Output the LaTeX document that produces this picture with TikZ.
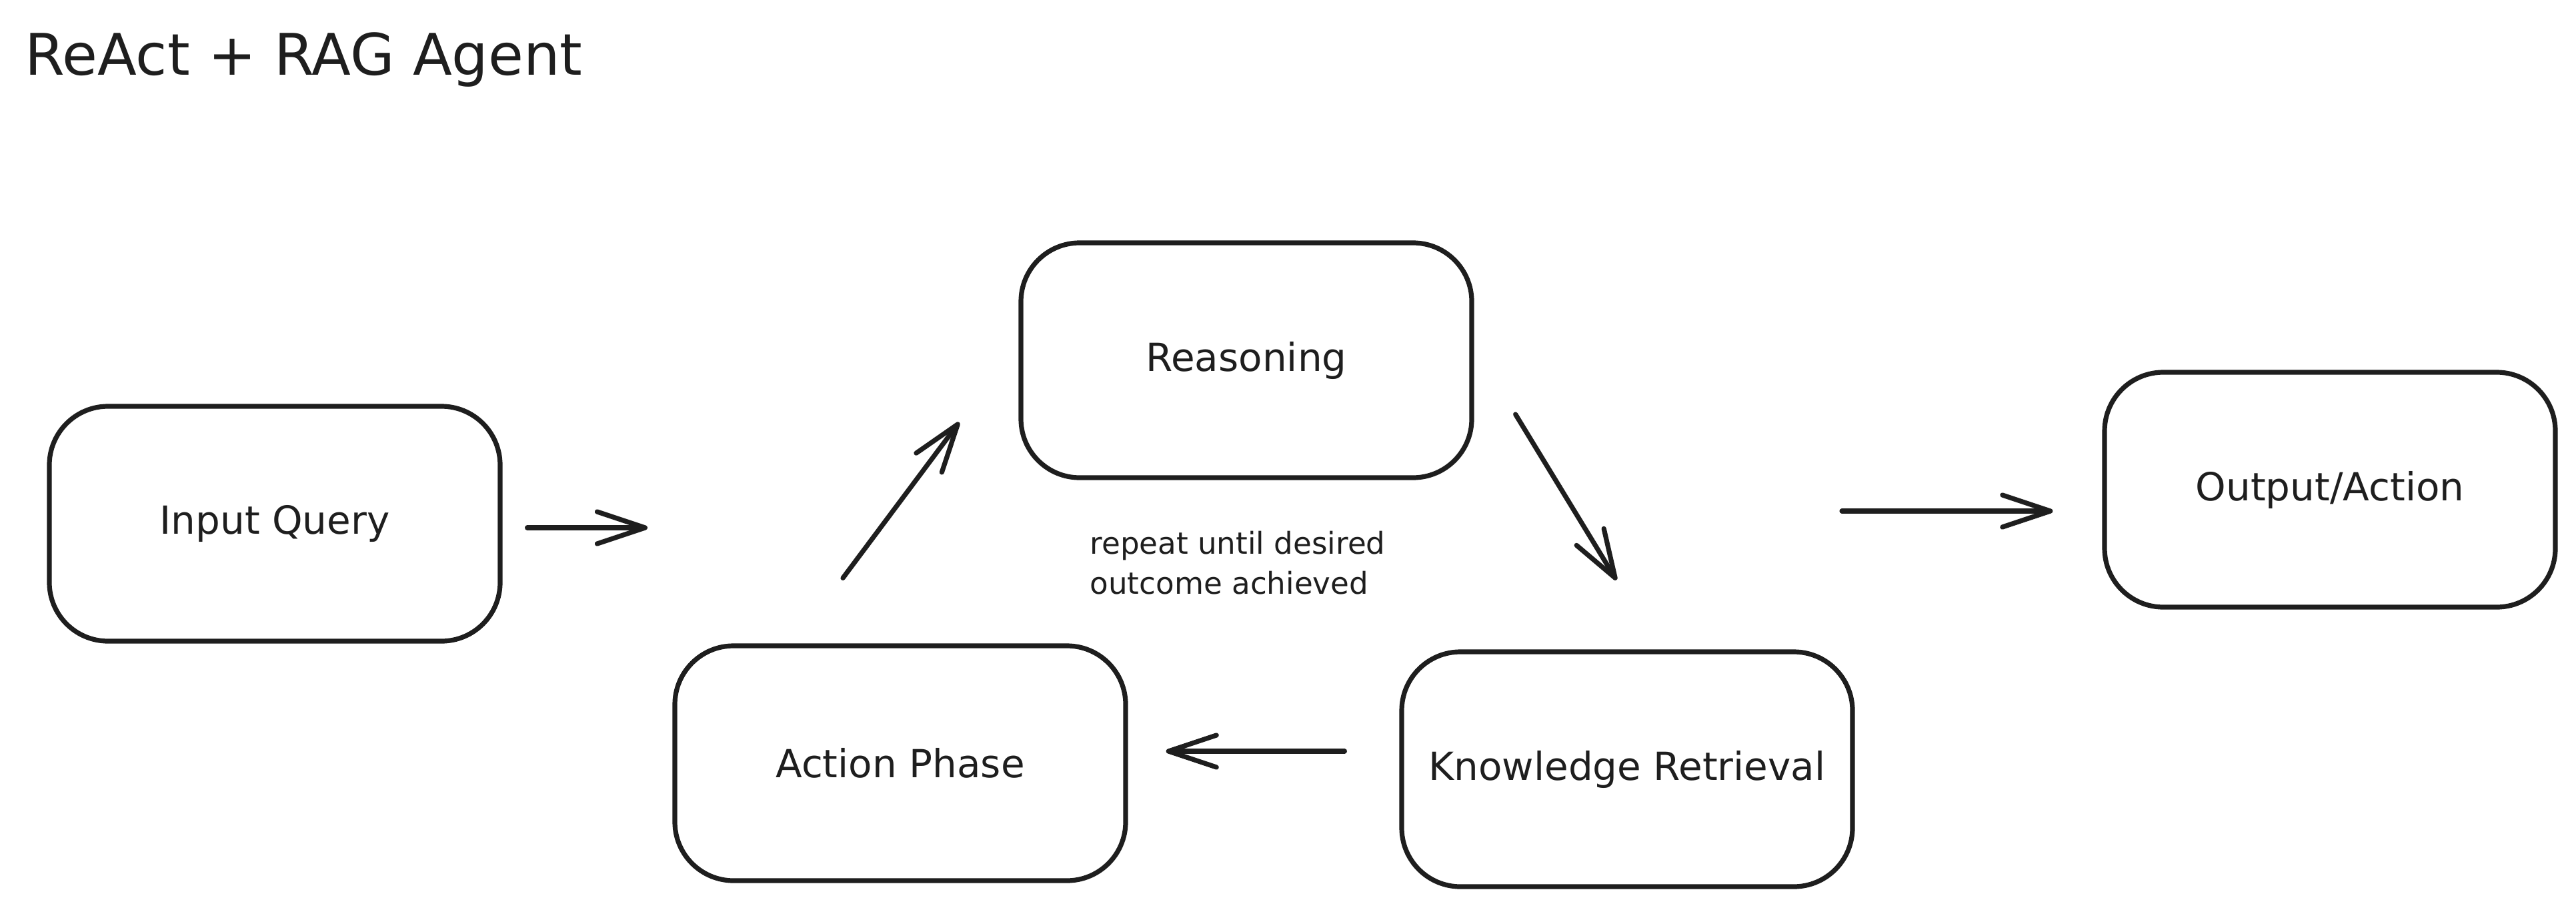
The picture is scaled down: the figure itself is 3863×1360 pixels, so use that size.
\documentclass[tikz,border=0pt]{standalone}
\usepackage{fontspec}
\setmainfont{DejaVu Sans}
\usetikzlibrary{arrows.meta}
\definecolor{ink}{HTML}{1E1E1E}

\tikzset{every picture/.style={line width=1.8pt}}
\tikzset{
  stage/.style={draw=ink, text=ink, line width=1.8pt, rounded corners=22pt,
    minimum width=169pt, minimum height=88pt, font=\fontsize{14.5}{17}\selectfont},
  flow/.style={draw=ink, line width=1.8pt, line cap=round,
    -{Straight Barb[length=18pt,width=12pt,round]}}
}

\begin{document}
\begin{tikzpicture}[x=0.25pt,y=0.25pt,yscale=-1,xscale=1]
\useasboundingbox (0,0) rectangle (3863,1360);

% Title
\node[anchor=base west, inner sep=0, text=ink, font=\fontsize{21.5}{26}\selectfont] (title) at (34,112) {ReAct + RAG Agent};

% Stages
\node[stage] (iq) at (412,785) {Input Query};
\node[stage] (rs) at (1869,540) {Reasoning};
\node[stage] (kr) at (2440,1153) {Knowledge Retrieval};
\node[stage] (ap) at (1350,1144) {Action Phase};
\node[stage] (op) at (3494,734) {Output/Action};

% Loop note
\node[anchor=north west, inner sep=0, align=left, text=ink, font=\fontsize{11.3}{14.8}\selectfont] (note) at (1631,793) {repeat until desired\\outcome achieved};

% free ends of the loop
\coordinate (loopin) at (971,791);
\coordinate (loopout) at (2762,766);

% Arrows
\draw[flow] ([shift={(37,6)}]iq.east) -- (loopin);
\draw[flow] ([shift={(-86,-98)}]ap.north) -- ([shift={(-89,93)}]rs.west);
\draw[flow] ([shift={(62,81)}]rs.east) -- ([shift={(-16,-104)}]kr.north);
\draw[flow] ([shift={(-82,-27)}]kr.west) -- ([shift={(57,-18)}]ap.east);
\draw[flow] (loopout) -- ([shift={(-74,32)}]op.west);

\end{tikzpicture}
\end{document}
